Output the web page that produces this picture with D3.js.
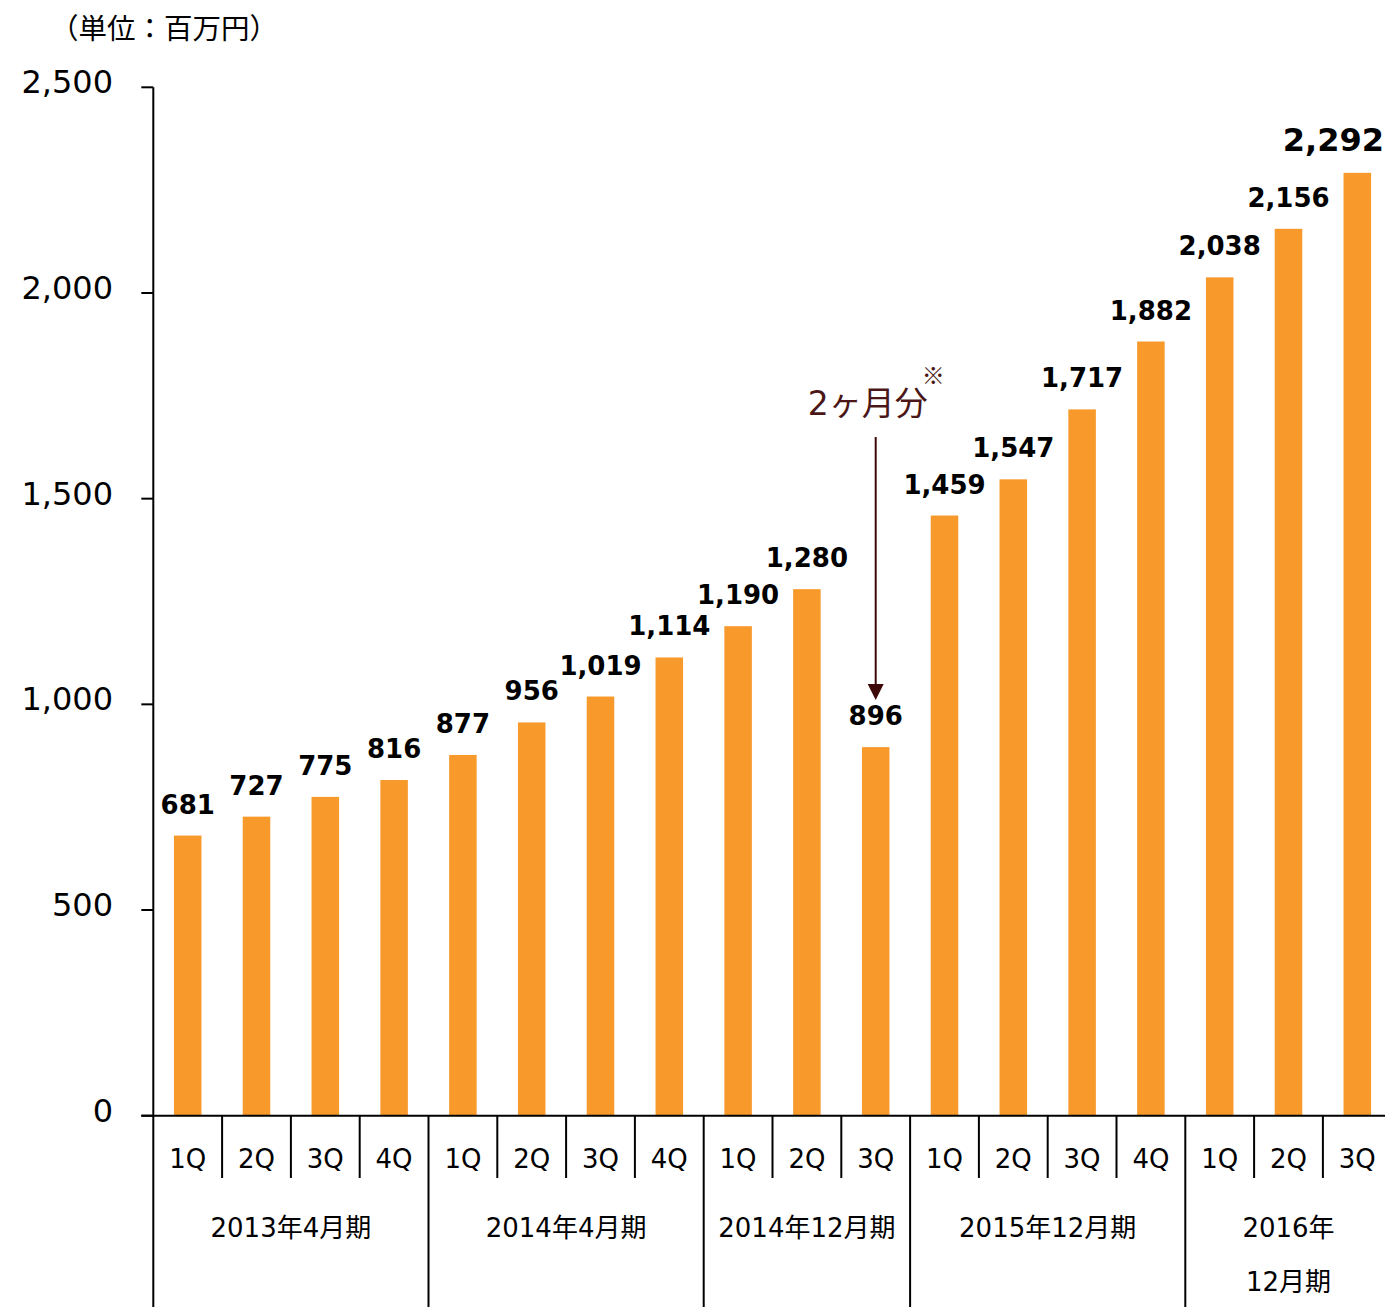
<!DOCTYPE html>
<html>
<head>
<meta charset="utf-8">
<script src="https://cdn.jsdelivr.net/npm/d3@7"></script>
<style>
  body { margin: 0; background: #fff; }
  text { font-family: "DejaVu Sans", "Noto Sans CJK JP", sans-serif; fill: #000; }
</style>
</head>
<body>
<svg id="chart" width="1385" height="1307"></svg>
<script>
// quarters, grouped by fiscal period
var quarters = ["1Q","2Q","3Q","4Q","1Q","2Q","3Q","4Q","1Q","2Q","3Q","1Q","2Q","3Q","4Q","1Q","2Q","3Q"];
var values = [681, 727, 775, 816, 877, 956, 1019, 1114, 1190, 1280, 896, 1459, 1547, 1717, 1882, 2038, 2156, 2292];
var periods = [
    {name: ["2013年4月期"], start: 0, end: 4},
    {name: ["2014年4月期"], start: 4, end: 8},
    {name: ["2014年12月期"], start: 8, end: 11},
    {name: ["2015年12月期"], start: 11, end: 15},
    {name: ["2016年", "12月期"], start: 15, end: 18}
];
var yTicks = [0, 500, 1000, 1500, 2000, 2500];
var unitLabel = "（単位：百万円）";
var noteText = "2ヶ月分";
var noteIndex = 10; // the short 2-month quarter

var svg = d3.select("#chart");
var width = +svg.attr("width"),
    height = +svg.attr("height");

var x0 = 153.3, bandW = 68.8;
var idx = d3.range(values.length);

var x = d3.scaleBand()
    .domain(idx)
    .range([x0, x0 + bandW * values.length])
    .paddingInner(0.6)
    .paddingOuter(0.3);

var y = d3.scaleLinear()
    .domain([0, 2500])
    .range([1115.7, 87.3]);

function bandLeft(i) { return x0 + bandW * i; }

// unit label
svg.append("text")
    .attr("x", 50)
    .attr("y", 39)
    .style("font-size", "28.5px")
    .text(unitLabel);

// y axis
var gy = svg.append("g");
gy.append("line")
    .attr("x1", x0).attr("x2", x0)
    .attr("y1", y(2500)).attr("y2", height)
    .attr("stroke", "#000").attr("stroke-width", 2);
gy.selectAll(".tick")
    .data(yTicks)
    .enter().append("line")
    .attr("x1", x0 - 12).attr("x2", x0)
    .attr("y1", function(d) { return y(d); })
    .attr("y2", function(d) { return y(d); })
    .attr("stroke", "#000").attr("stroke-width", 2);
gy.selectAll("text")
    .data(yTicks)
    .enter().append("text")
    .attr("x", 113)
    .attr("y", function(d) { return y(d) + 6; })
    .attr("text-anchor", "end")
    .style("font-size", "32px")
    .text(function(d) { return d3.format(",")(d); });

// bars
svg.append("g").selectAll("rect")
    .data(values)
    .enter().append("rect")
    .attr("x", function(d, i) { return x(i); })
    .attr("width", x.bandwidth())
    .attr("y", function(d) { return y(d); })
    .attr("height", function(d) { return y(0) - y(d); })
    .attr("fill", "#F7992B");

// value labels
svg.append("g").selectAll("text")
    .data(values)
    .enter().append("text")
    .attr("x", function(d, i) { return x(i) + x.bandwidth() / 2; })
    .attr("y", function(d) { return y(d) - 22; })
    .attr("text-anchor", "middle")
    .style("font-size", function(d, i) { return i === values.length - 1 ? "32px" : "26px"; })
    .style("font-weight", "bold")
    .text(function(d) { return d3.format(",")(d); })
    .each(function() {
        // keep the last label inside the page
        var b = this.getBBox();
        if (b.x + b.width > width - 1) {
            d3.select(this).attr("text-anchor", "end").attr("x", width - 1);
        }
    });

// x axis baseline
svg.append("line")
    .attr("x1", x0 - 12).attr("x2", width)
    .attr("y1", y(0)).attr("y2", y(0))
    .attr("stroke", "#000").attr("stroke-width", 2);

// quarter separators and labels
var isGroupStart = {};
periods.forEach(function(p) { isGroupStart[p.start] = true; });

svg.append("g").selectAll("line")
    .data(idx.slice(1))
    .enter().append("line")
    .attr("x1", function(i) { return bandLeft(i); })
    .attr("x2", function(i) { return bandLeft(i); })
    .attr("y1", y(0))
    .attr("y2", function(i) { return isGroupStart[i] ? height : 1178; })
    .attr("stroke", "#000").attr("stroke-width", 2);

svg.append("g").selectAll("text")
    .data(quarters)
    .enter().append("text")
    .attr("x", function(d, i) { return bandLeft(i) + bandW / 2; })
    .attr("y", 1168)
    .attr("text-anchor", "middle")
    .style("font-size", "26px")
    .text(function(d) { return d; });

// period labels
var gp = svg.append("g").selectAll("g")
    .data(periods)
    .enter().append("g");
gp.each(function(p) {
    var cx = (bandLeft(p.start) + bandLeft(p.end)) / 2;
    d3.select(this).selectAll("text")
        .data(p.name)
        .enter().append("text")
        .attr("x", cx)
        .attr("y", function(d, j) { return 1237 + j * 54; })
        .attr("text-anchor", "middle")
        .style("font-size", "26px")
        .text(function(d) { return d; });
});

// note arrow for the 2-month quarter
var ax = x(noteIndex) + x.bandwidth() / 2;
var noteColor = "#3d0808";
svg.append("line")
    .attr("x1", ax).attr("x2", ax)
    .attr("y1", 437).attr("y2", 686)
    .attr("stroke", noteColor).attr("stroke-width", 2);
svg.append("path")
    .attr("d", d3.line()([[ax - 8, 684], [ax + 8, 684], [ax, 700]]))
    .attr("fill", noteColor);
var note = svg.append("text")
    .attr("x", ax - 68)
    .attr("y", 415)
    .style("font-size", "33px")
    .style("fill", "#4a1616")
    .text(noteText);
var nb = note.node().getBBox();
svg.append("text")
    .attr("x", nb.x + nb.width - 6)
    .attr("y", 384)
    .style("font-family", "'Noto Sans CJK JP', sans-serif")
    .style("font-size", "23px")
    .style("fill", "#4a1616")
    .text("※");
</script>
</body>
</html>
